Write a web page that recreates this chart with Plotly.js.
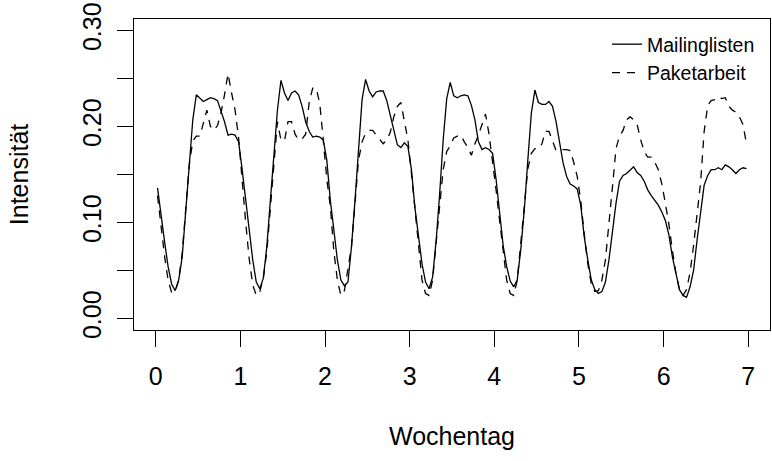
<!DOCTYPE html>
<html>
<head>
<meta charset="utf-8">
<script src="https://cdn.plot.ly/plotly-3.0.1.min.js"></script>
<style>
html,body{margin:0;padding:0;background:#fff;}
#chart{width:772px;height:461px;}
</style>
</head>
<body>
<div id="chart"></div>
<script>
// Hourly intensity per weekday (24 values per day, 7 days)
var mailinglisten = [
  0.136,0.106,0.080,0.054,0.036,0.029,0.040,0.064,0.113,0.165,0.207,0.233,0.229,0.226,0.228,0.230,0.229,0.227,0.216,0.205,0.191,0.192,0.191,0.184,
  0.155,0.123,0.092,0.061,0.038,0.031,0.042,0.075,0.123,0.172,0.217,0.248,0.235,0.227,0.235,0.237,0.233,0.221,0.205,0.195,0.189,0.190,0.189,0.186,
  0.165,0.123,0.090,0.061,0.040,0.034,0.038,0.075,0.123,0.179,0.228,0.249,0.237,0.231,0.236,0.237,0.237,0.227,0.212,0.198,0.181,0.178,0.183,0.179,
  0.155,0.115,0.083,0.057,0.038,0.031,0.043,0.081,0.130,0.186,0.229,0.246,0.232,0.230,0.232,0.233,0.232,0.222,0.207,0.184,0.176,0.178,0.176,0.172,
  0.145,0.110,0.076,0.054,0.039,0.033,0.040,0.072,0.113,0.165,0.214,0.238,0.225,0.223,0.223,0.226,0.221,0.205,0.183,0.162,0.148,0.140,0.138,0.135,
  0.118,0.085,0.061,0.040,0.030,0.026,0.028,0.038,0.061,0.092,0.120,0.143,0.149,0.151,0.154,0.158,0.152,0.149,0.143,0.134,0.128,0.123,0.118,0.111,
  0.102,0.087,0.064,0.047,0.030,0.024,0.022,0.033,0.050,0.082,0.113,0.139,0.149,0.155,0.155,0.157,0.155,0.160,0.158,0.155,0.151,0.155,0.157,0.156
];
var paketarbeit = [
  0.128,0.095,0.065,0.040,0.027,0.028,0.040,0.068,0.110,0.160,0.185,0.190,0.190,0.205,0.217,0.200,0.196,0.201,0.214,0.233,0.255,0.235,0.217,0.188,
  0.140,0.100,0.062,0.035,0.024,0.028,0.042,0.070,0.115,0.165,0.205,0.186,0.185,0.205,0.205,0.192,0.186,0.187,0.192,0.225,0.240,0.240,0.224,0.186,
  0.145,0.117,0.070,0.040,0.024,0.029,0.050,0.075,0.120,0.165,0.184,0.193,0.196,0.196,0.191,0.186,0.182,0.186,0.194,0.210,0.221,0.225,0.207,0.186,
  0.151,0.113,0.075,0.040,0.026,0.024,0.040,0.075,0.117,0.155,0.174,0.180,0.188,0.190,0.191,0.184,0.178,0.170,0.182,0.191,0.203,0.213,0.192,0.165,
  0.134,0.102,0.068,0.040,0.026,0.024,0.040,0.075,0.117,0.156,0.172,0.177,0.177,0.182,0.195,0.195,0.184,0.175,0.176,0.176,0.176,0.175,0.163,0.148,
  0.123,0.088,0.057,0.036,0.028,0.029,0.040,0.061,0.096,0.137,0.177,0.190,0.196,0.207,0.210,0.207,0.202,0.186,0.174,0.168,0.168,0.163,0.155,0.140,
  0.120,0.098,0.071,0.047,0.030,0.024,0.030,0.048,0.076,0.106,0.142,0.195,0.222,0.227,0.228,0.231,0.229,0.230,0.221,0.217,0.215,0.210,0.202,0.182
];
var seriesNames = ['Mailinglisten', 'Paketarbeit'];
var xTicks = [0, 1, 2, 3, 4, 5, 6, 7];
var xTickLabels = ['0', '1', '2', '3', '4', '5', '6', '7'];
var yTicks = [0, 0.05, 0.10, 0.15, 0.20, 0.25, 0.30];
var yTickLabels = ['0.00', '', '0.10', '', '0.20', '', '0.30'];

// time axis: hour index -> day (midpoint of each hour)
var days = mailinglisten.map(function (v, i) { return (i + 0.5) / 24; });

var FONT = 'Liberation Sans, Arial, Helvetica, sans-serif';

var traces = [
  {x: days, y: mailinglisten, name: seriesNames[0], type: 'scatter', mode: 'lines',
   line: {color: '#000', width: 1.3, dash: 'solid'}},
  {x: days, y: paketarbeit, name: seriesNames[1], type: 'scatter', mode: 'lines',
   line: {color: '#000', width: 1.3, dash: '8px,7px'}}
];

var axisCommon = {
  showgrid: false, zeroline: false,
  showline: true, mirror: true, linecolor: '#000', linewidth: 1,
  ticks: 'outside', ticklen: 16, tickwidth: 1, tickcolor: '#000',
  tickfont: {family: FONT, size: 25, color: '#000'},
  tickmode: 'array', automargin: false
};

var PL = 134, PR = 2, PT = 19, PB = 131;
var PW = 772 - PL - PR, PH = 461 - PT - PB;

var layout = {
  width: 772, height: 461,
  margin: {l: PL, r: PR, t: PT, b: PB, pad: 0, autoexpand: false},
  paper_bgcolor: '#fff', plot_bgcolor: '#fff',
  showlegend: true,
  legend: {
    x: (607 - PL) / PW, y: (PH - (25 - PT)) / PH, xanchor: 'left', yanchor: 'top',
    bgcolor: 'rgba(0,0,0,0)', borderwidth: 0,
    font: {family: FONT, size: 19.5, color: '#000'},
    tracegroupgap: 0
  },
  xaxis: Object.assign({}, axisCommon, {
    range: [-0.257, 7.257],
    tickvals: xTicks, ticktext: xTickLabels,
    ticklabelstandoff: 8,
    title: {text: 'Wochentag', font: {family: FONT, size: 25, color: '#000'}, standoff: 38}
  }),
  yaxis: Object.assign({}, axisCommon, {
    range: [-0.012, 0.312],
    tickvals: yTicks, ticktext: yTickLabels,
    tickangle: -90,
    ticklabelstandoff: 6,
    title: {text: 'Intensität', font: {family: FONT, size: 25, color: '#000'}, standoff: 42}
  })
};

Plotly.newPlot('chart', traces, layout, {displayModeBar: false, staticPlot: true});
</script>
</body>
</html>
